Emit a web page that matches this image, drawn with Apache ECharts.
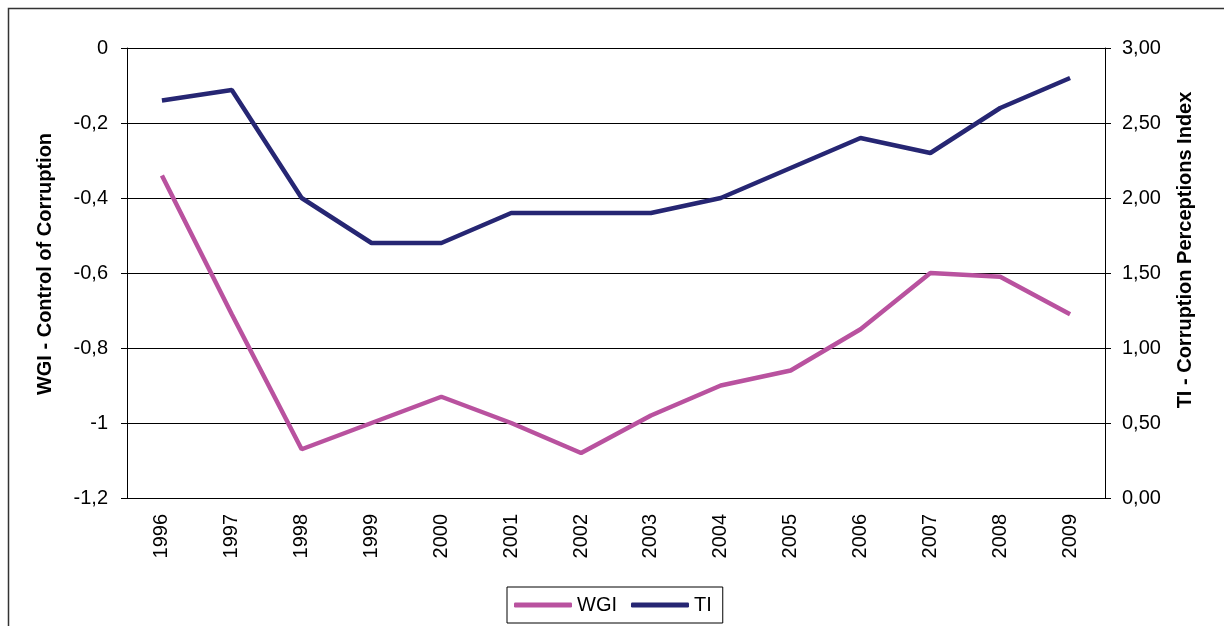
<!DOCTYPE html>
<html>
<head>
<meta charset="utf-8">
<script src="https://cdn.jsdelivr.net/npm/echarts@6/dist/echarts.min.js"></script>
<style>
  html, body { margin: 0; padding: 0; background: #fff; }
  #chart { width: 1224px; height: 626px; }
</style>
</head>
<body>
<div id="chart"></div>
<script>
const years = ['1996', '1997', '1998', '1999', '2000', '2001', '2002',
  '2003', '2004', '2005', '2006', '2007', '2008', '2009'];
// WGI - control of corruption (left axis)
const wgi = [-0.34, -0.71, -1.07, -1.0, -0.93, -1.0, -1.08,
  -0.98, -0.9, -0.86, -0.75, -0.6, -0.61, -0.71];
// TI - corruption perceptions index (right axis)
const ti = [2.65, 2.72, 2.0, 1.7, 1.7, 1.9, 1.9,
  1.9, 2.0, 2.2, 2.4, 2.3, 2.6, 2.8];

const font = 'Arial, "Liberation Sans", sans-serif';
const chart = echarts.init(document.getElementById('chart'));

chart.setOption({
  animation: false,
  backgroundColor: '#fff',
  textStyle: { fontFamily: font },
  graphic: [{
    type: 'rect',
    shape: { x: 8.5, y: 8.5, width: 1400, height: 800 },
    style: { fill: 'none', stroke: '#333', lineWidth: 1.5 },
    silent: true
  }],
  grid: { left: 127, right: 119, top: 48, bottom: 128 },
  legend: {
    left: 507,
    top: 587,
    padding: [8, 11, 8, 7],
    itemGap: 14,
    itemWidth: 58,
    itemHeight: 5,
    icon: 'roundRect',
    borderColor: '#000',
    borderWidth: 1,
    textStyle: { fontSize: 20, color: '#000', fontFamily: font },
    data: ['WGI', 'TI']
  },
  xAxis: {
    type: 'category',
    data: years,
    boundaryGap: true,
    axisLine: { lineStyle: { color: '#000', width: 1 } },
    axisTick: { show: false },
    axisLabel: { rotate: 90, fontSize: 20, color: '#000', margin: 16, fontFamily: font }
  },
  yAxis: [{
    type: 'value',
    min: -1.2,
    max: 0,
    interval: 0.2,
    position: 'left',
    name: 'WGI - Control of Corruption',
    nameLocation: 'middle',
    nameGap: 72,
    nameTextStyle: {
      fontSize: 20, fontWeight: 'bold', color: '#000', fontFamily: font,
      padding: [0, 0, 0, 18]
    },
    axisLine: { show: true, lineStyle: { color: '#000', width: 1 } },
    axisTick: { show: true, length: 6, lineStyle: { color: '#000' } },
    axisLabel: {
      fontSize: 20, color: '#000', margin: 19, fontFamily: font,
      formatter: v => String(Math.round(v * 10) / 10).replace('.', ',')
    },
    splitLine: { lineStyle: { color: '#000', width: 1 } }
  }, {
    type: 'value',
    min: 0,
    max: 3,
    interval: 0.5,
    position: 'right',
    name: 'TI - Corruption Perceptions Index',
    nameLocation: 'middle',
    nameGap: 70,
    nameRotate: 90,
    nameTextStyle: {
      fontSize: 20, fontWeight: 'bold', color: '#000', fontFamily: font,
      padding: [0, 0, 0, 46]
    },
    axisLine: { show: true, lineStyle: { color: '#000', width: 1 } },
    axisTick: { show: true, length: 6, lineStyle: { color: '#000' } },
    axisLabel: {
      fontSize: 20, color: '#000', margin: 17, fontFamily: font,
      formatter: v => v.toFixed(2).replace('.', ',')
    },
    splitLine: { show: false }
  }],
  series: [{
    name: 'WGI',
    type: 'line',
    yAxisIndex: 0,
    data: wgi,
    symbol: 'none',
    color: '#B9529F',
    lineStyle: { width: 4.5, color: '#B9529F' }
  }, {
    name: 'TI',
    type: 'line',
    yAxisIndex: 1,
    data: ti,
    symbol: 'none',
    color: '#262673',
    lineStyle: { width: 4.5, color: '#262673' }
  }]
});
</script>
</body>
</html>
